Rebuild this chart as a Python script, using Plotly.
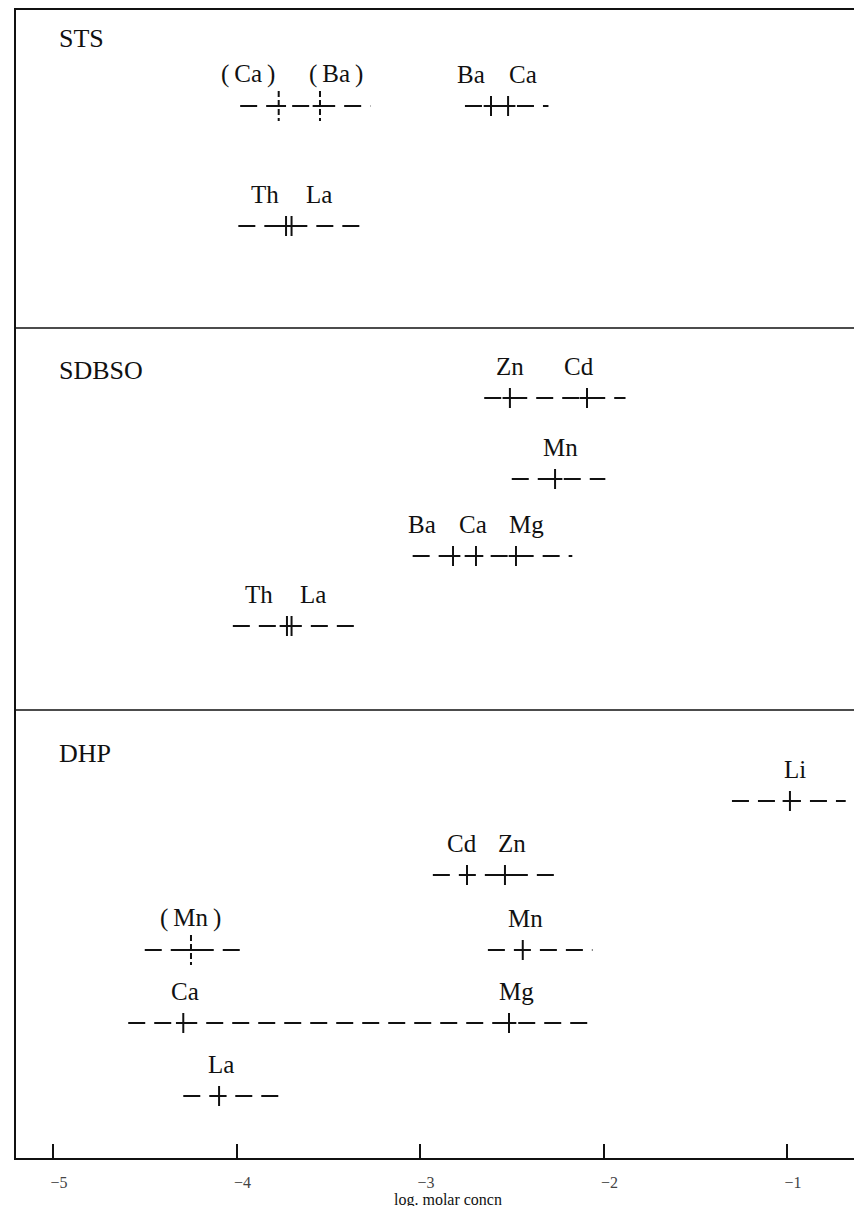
import plotly.graph_objects as go

# ── data: log molar concentration of each ion, per row ─────────────────────
ROW_PANEL = ["STS", "STS", "STS",
             "SDBSO", "SDBSO", "SDBSO", "SDBSO",
             "DHP", "DHP", "DHP", "DHP", "DHP", "DHP"]
ROW_LABELS = [
    ["(Ca)", "(Ba)"], ["Ba", "Ca"], ["Th", "La"],
    ["Zn", "Cd"], ["Mn"], ["Ba", "Ca", "Mg"], ["Th", "La"],
    ["Li"], ["Cd", "Zn"], ["(Mn)"], ["Mn"], ["Ca", "Mg"], ["La"],
]
ROW_VALUES = [
    [-3.77, -3.545], [-2.613, -2.52], [-3.73, -3.70],
    [-2.51, -2.09], [-2.264], [-2.82, -2.695, -2.477], [-3.725, -3.70],
    [-0.984], [-2.744, -2.537], [-4.248], [-2.44], [-4.29, -2.515], [-4.095],
]
ROW_EXTENT = [
    [-3.98, -3.27], [-2.755, -2.30], [-3.99, -3.30],
    [-2.65, -1.88], [-2.50, -1.99], [-3.04, -2.17], [-4.02, -3.35],
    [-1.30, -0.68], [-2.93, -2.24], [-4.50, -3.98], [-2.63, -2.06],
    [-4.59, -2.05], [-4.29, -3.74],
]
X_TICKS = [-5, -4, -3, -2, -1]
X_TICK_TEXT = ["\u22125", "\u22124", "\u22123", "\u22122", "\u22121"]
X_TITLE = "log. molar concn"

# ── layout (pixel rows from top of figure) ─────────────────────────────────
W, H = 862, 1206
AXIS_Y = 1150
ROW_Y = [98, 98, 218, 390, 471, 548, 618, 793, 867, 942, 942, 1015, 1088]
LABEL_SHIFT = [[-31, 16], [-20, 15], [-21, 27],
               [0, -8], [5], [-31, -3, 11], [-28, 21],
               [5], [-5, 7], [0], [3], [2, 7], [2]]
PANEL_TITLE_Y = {"STS": 30, "SDBSO": 362, "DHP": 745}
DIVIDERS = [320, 702]
FONT = "Liberation Serif, Times New Roman, serif"
INK = "#111111"

fig = go.Figure()

for labels, vals, ext, y in zip(ROW_LABELS, ROW_VALUES, ROW_EXTENT, ROW_Y):
    # dashed range line
    fig.add_trace(go.Scatter(
        x=ext, y=[y, y], mode="lines",
        line=dict(color=INK, width=2, dash="17px,9px"),
        hoverinfo="skip", showlegend=False,
    ))
    # tick at each ion (broken tick for the bracketed, tentative ones)
    for lab, v in zip(labels, vals):
        tentative = lab.startswith("(")
        half = 15 if tentative else 10
        fig.add_trace(go.Scatter(
            x=[v, v], y=[y - half, y + half], mode="lines",
            line=dict(color=INK, width=2, dash="6px,3px" if tentative else "solid"),
            hoverinfo="skip", showlegend=False,
        ))
        fig.add_trace(go.Scatter(
            x=[v - 0.04, v + 0.04], y=[y, y], mode="lines",
            line=dict(color=INK, width=2),
            hoverinfo="skip", showlegend=False,
        ))

for labels, vals, y, shifts in zip(ROW_LABELS, ROW_VALUES, ROW_Y, LABEL_SHIFT):
    for lab, v, dx in zip(labels, vals, shifts):
        text = lab.replace("(", "(\u2009").replace(")", "\u2009)")
        fig.add_annotation(
            x=v, y=y, xref="x", yref="y", text=text, showarrow=False,
            xshift=dx, yshift=32, font=dict(family=FONT, size=25, color=INK),
        )

for name, py in PANEL_TITLE_Y.items():
    fig.add_annotation(
        x=(49 - 8) / (W - 8), y=py, xref="paper", yref="y", text=name, showarrow=False,
        xanchor="left", font=dict(family=FONT, size=26, color=INK),
    )

for dy in DIVIDERS:
    fig.add_shape(type="line", xref="paper", yref="y", x0=0, x1=1, y0=dy, y1=dy,
                  line=dict(color=INK, width=1.5))

fig.add_annotation(
    x=(440 - 8) / (W - 8), y=-42 / (AXIS_Y - 2),
    xref="paper", yref="paper", text=X_TITLE, showarrow=False,
    yanchor="middle", font=dict(family=FONT, size=16, color=INK),
)

x_left = -5 - 37 / 183.5
x_right = -5 + 817 / 183.5

fig.update_layout(
    width=W, height=H,
    margin=dict(l=8, r=0, t=2, b=H - AXIS_Y),
    paper_bgcolor="white", plot_bgcolor="white",
    showlegend=False,
    xaxis=dict(
        range=[x_left, x_right], tickvals=X_TICKS, ticktext=X_TICK_TEXT,
        ticks="inside", ticklen=14, tickwidth=2, tickcolor=INK,
        showline=True, linecolor=INK, linewidth=2, mirror=True,
        showgrid=False, zeroline=False, ticklabelstandoff=9, ticklabelshift=6,
        tickfont=dict(family=FONT, size=16, color="#444444"),
    ),
    yaxis=dict(
        range=[AXIS_Y, 2], showticklabels=False, ticks="",
        showline=True, linecolor=INK, linewidth=2,
        showgrid=False, zeroline=False,
    ),
)

fig.write_html("out.html")
